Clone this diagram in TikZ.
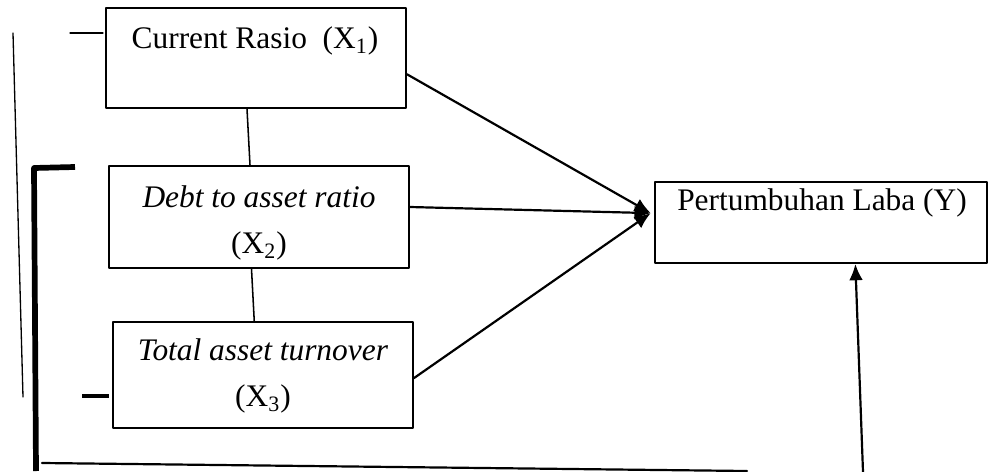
\documentclass[tikz,border=0pt]{standalone}
\usepackage{fontspec}
\setmainfont{Liberation Serif}
\usetikzlibrary{arrows.meta}

\begin{document}
\begin{tikzpicture}[x=0.016cm, y=-0.016cm, line join=round, line cap=round,
	kotak/.style={draw, line width=0.9pt, inner sep=0pt},
	teks/.style={align=center, inner sep=0pt, font=\fontsize{14.3}{21}\selectfont},
	panah/.style={line width=1pt, -{Latex[length=2.6mm, width=2.2mm]}},
	garis/.style={line width=0.7pt}]
	\useasboundingbox (0,0) rectangle (989,472);
	
	% --- Kotak variabel ---
	% Variabel bebas
	\node[kotak, minimum width=4.8cm, minimum height=1.6cm] (x1) at (256,58) {};
	\node[kotak, minimum width=4.8cm, minimum height=1.632cm] (x2) at (259,217) {};
	\node[kotak, minimum width=4.8cm, minimum height=1.696cm] (x3) at (263,375) {};
	% Variabel terikat
	\node[kotak, minimum width=5.3cm, minimum height=1.296cm] (y) at (821,222.5) {};
	
	% --- Teks dalam kotak ---
	\node[teks] (tx1) at (255,41) {Current Rasio \ (X\textsubscript{1})};
	\node[teks] (tx2) at (259,223) {\textit{Debt to asset ratio}\\(X\textsubscript{2})};
	\node[teks] (tx3) at (263,376) {\textit{Total asset turnover}\\(X\textsubscript{3})};
	\node[teks] (ty) at (822,203) {Pertumbuhan Laba (Y)};
	
	% --- Garis antar variabel bebas ---
	\draw[garis] ([xshift=-0.144cm]x1.south) -- ([xshift=-0.144cm]x2.north);
	\draw[garis] ([xshift=-0.12cm]x2.south) -- ([xshift=-0.14cm]x3.north);
	
	% --- Panah ke Y ---
	\coordinate (tip) at ([yshift=0.15cm, xshift=-0.06cm]y.west);
	\draw[panah] ([yshift=-0.26cm]x1.east) -- (tip);
	\draw[panah] ([yshift=0.16cm]x2.east) -- (tip);
	\draw[panah] ([yshift=-0.05cm]x3.east) -- (tip);
	\coordinate (bawah) at (863,472);
	\draw[panah] (bawah) -- ([xshift=0.55cm]y.south);
	
	% --- Garis kurung di kiri dan bawah ---
	\draw[line width=0.6pt] (13,33) -- (23,397);
	\draw[line width=0.6pt] (70,33) -- (103,33);
	\draw[line width=2.6pt, line cap=butt] (75,167) -- (34,168) -- (36,471);
	\draw[line width=1.8pt, line cap=butt] (82,396) -- (109,396);
	\draw[line width=1pt] (42,463) -- (747,471);
	
\end{tikzpicture}
\end{document}
